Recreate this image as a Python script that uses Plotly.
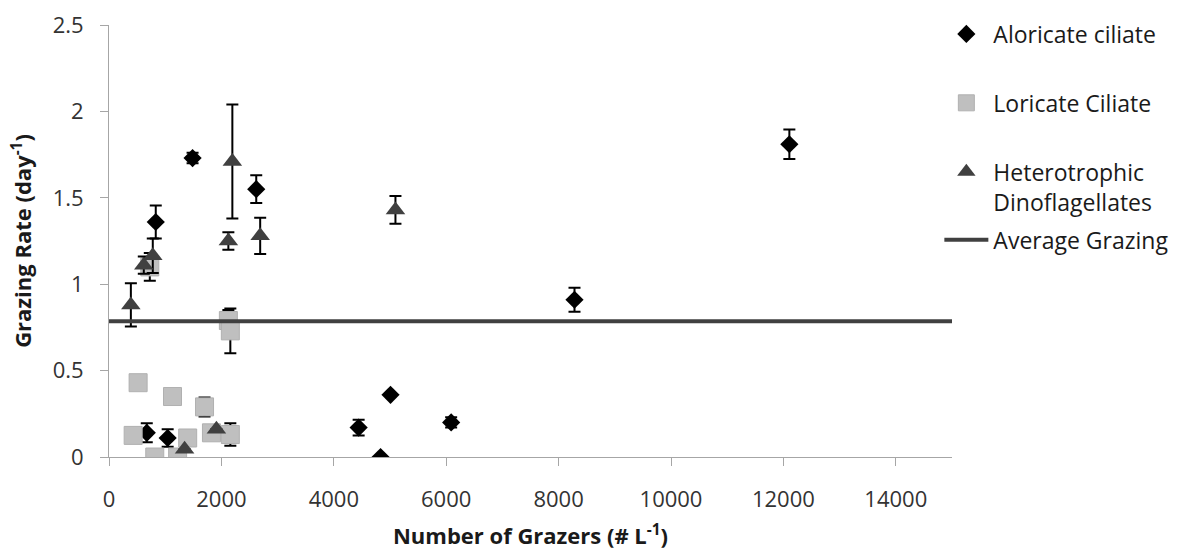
import plotly.graph_objects as go

# Aloricate ciliate
alor_x = [672, 832, 1044, 1487, 2620, 4442, 4832, 5009, 6088, 8283, 12106]
alor_y = [0.14, 1.36, 0.11, 1.73, 1.55, 0.17, 0.0, 0.36, 0.20, 0.91, 1.81]
alor_err = [0.055, 0.095, 0.05, 0.03, 0.08, 0.045, 0, 0, 0.03, 0.07, 0.085]

# Loricate Ciliate
lor_x = [430, 518, 726, 814, 1130, 1221, 1400, 1700, 1823, 2124, 2159, 2159]
lor_y = [0.125, 0.43, 1.10, 0.0, 0.35, 0.0, 0.11, 0.29, 0.14, 0.79, 0.73, 0.13]
lor_err = [0, 0, 0.08, 0, 0, 0, 0, 0.055, 0, 0.06, 0.13, 0.065]

# Heterotrophic Dinoflagellates
het_x = [389, 619, 779, 1345, 1911, 2124, 2195, 2690, 5097]
het_y = [0.88, 1.11, 1.165, 0.045, 0.16, 1.25, 1.71, 1.28, 1.43]
het_err = [0.125, 0.05, 0.1, 0, 0, 0.05, 0.33, 0.105, 0.08]

# Average grazing
avg_x = [0, 15000]
avg_y = [0.785, 0.785]

x_ticks = [0, 2000, 4000, 6000, 8000, 10000, 12000, 14000]
y_ticks = [0, 0.5, 1, 1.5, 2, 2.5]
y_ticktext = ["0", "0.5", "1", "1.5", "2", "2.5"]

FONT = "Open Sans"
err_style = dict(type="data", visible=True, color="black", thickness=2, width=6)

fig = go.Figure()
fig.add_trace(go.Scatter(
    x=alor_x, y=alor_y, mode="markers", name="Aloricate ciliate",
    marker=dict(symbol="diamond", size=14, color="black"),
    error_y=dict(array=alor_err, **err_style), legend="legend", legendgroup="a"))
fig.add_trace(go.Scatter(
    x=lor_x, y=lor_y, mode="markers", name="Loricate Ciliate",
    marker=dict(symbol="square", size=18, color="#BFBFBF",
                line=dict(color="#B0B0B0", width=1)),
    error_y=dict(array=lor_err, **err_style), legend="legend", legendgroup="b"))
fig.add_trace(go.Scatter(
    x=het_x, y=het_y, mode="markers", name="Heterotrophic<br>Dinoflagellates",
    marker=dict(symbol="triangle-up", size=17, color="#404040"),
    error_y=dict(array=het_err, **err_style), legend="legend", legendgroup="c"))
fig.add_trace(go.Scatter(
    x=avg_x, y=avg_y, mode="lines", name="Average Grazing",
    line=dict(color="#404040", width=4), legend="legend2"))

axis_common = dict(
    showgrid=False, zeroline=False, showline=True, linecolor="#A6A6A6", linewidth=1,
    ticks="outside", tickcolor="#A6A6A6", ticklen=8, automargin=False,
    tickfont=dict(family=FONT, size=22, color="#333333"),
)

fig.update_layout(
    width=1186, height=552,
    margin=dict(l=109, r=230, t=17, b=95),
    plot_bgcolor="white", paper_bgcolor="white",
    font=dict(family=FONT, color="#1a1a1a"),
    xaxis=dict(range=[0, 15000], tickvals=x_ticks, ticktext=[str(v) for v in x_ticks],
               ticklabelstandoff=15,
               title=dict(text="<b>Number of Grazers (# L<sup>-1</sup>)</b>",
                          font=dict(family=FONT, size=22, color="#1a1a1a"), standoff=16),
               **axis_common),
    yaxis=dict(range=[0, 2.5], tickvals=y_ticks, ticktext=y_ticktext,
               ticklabelstandoff=12,
               title=dict(text="<b>Grazing Rate (day<sup>-1</sup>)</b>",
                          font=dict(family=FONT, size=22, color="#1a1a1a"), standoff=14),
               **axis_common),
    legend=dict(x=0.985, y=1.029, xanchor="left", yanchor="top",
                font=dict(family=FONT, size=23, color="#1a1a1a"),
                traceorder="grouped", tracegroupgap=36, valign="top",
                itemwidth=44,
                bgcolor="rgba(0,0,0,0)"),
    legend2=dict(x=0.985, y=0.503, xanchor="left", yanchor="middle",
                 font=dict(family=FONT, size=23, color="#1a1a1a"),
                 itemwidth=44,
                 bgcolor="rgba(0,0,0,0)"),
    showlegend=True,
)

fig.write_html("out.html")
